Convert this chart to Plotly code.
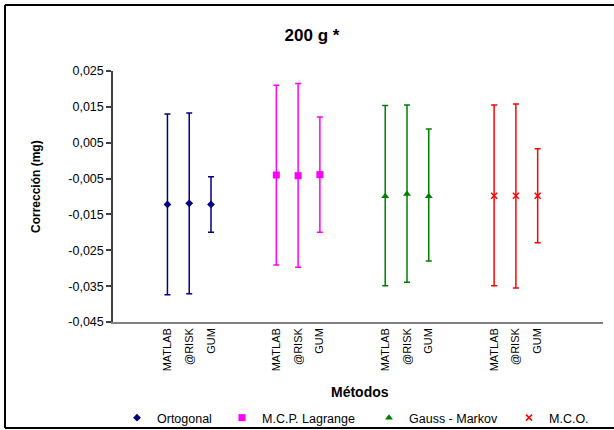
import plotly.graph_objects as go

# ---- data ----
methods = ["MATLAB", "@RISK", "GUM"]
series_names = ["Ortogonal", "M.C.P. Lagrange", "Gauss - Markov", "M.C.O."]

ortogonal_center = [-0.0122, -0.0119, -0.0122]
ortogonal_upper = [0.0130, 0.0133, -0.0045]
ortogonal_lower = [-0.0374, -0.0371, -0.0200]

lagrange_center = [-0.0040, -0.0042, -0.0039]
lagrange_upper = [0.0210, 0.0215, 0.0122]
lagrange_lower = [-0.0291, -0.0297, -0.0200]

gauss_center = [-0.0099, -0.0093, -0.0099]
gauss_upper = [0.0154, 0.0155, 0.0088]
gauss_lower = [-0.0349, -0.0339, -0.0280]

mco_center = [-0.0098, -0.0098, -0.0098]
mco_upper = [0.0155, 0.0158, 0.0033]
mco_lower = [-0.0349, -0.0355, -0.0229]

y_tick_values = [0.025, 0.015, 0.005, -0.005, -0.015, -0.025, -0.035, -0.045]
y_tick_labels = ["0,025", "0,015", "0,005", "-0,005", "-0,015", "-0,025", "-0,035", "-0,045"]

# ---- styling ----
colors = ["#000080", "#FF00FF", "#008000", "#FF0000"]
symbols = ["diamond", "square", "triangle-up", "x-thin-open"]
msizes = [6, 7, 7, 6]
centers = [ortogonal_center, lagrange_center, gauss_center, mco_center]
uppers = [ortogonal_upper, lagrange_upper, gauss_upper, mco_upper]
lowers = [ortogonal_lower, lagrange_lower, gauss_lower, mco_lower]

FONT = "Liberation Sans, Arial, sans-serif"
GROUP_STEP = 5

fig = go.Figure()
all_x = []
all_text = []
for g, name in enumerate(series_names):
    xs = [g * GROUP_STEP + i for i in range(len(methods))]
    all_x += xs
    all_text += methods
    c = centers[g]
    up = [u - v for u, v in zip(uppers[g], c)]
    dn = [v - l for v, l in zip(c, lowers[g])]
    marker = dict(color=colors[g], size=msizes[g], symbol=symbols[g])
    if symbols[g] == "x-thin-open":
        marker["line"] = dict(color=colors[g], width=1.5)
    fig.add_trace(go.Scatter(
        x=xs, y=c, mode="markers", name=name,
        marker=marker,
        error_y=dict(type="data", symmetric=False, array=up, arrayminus=dn,
                     color=colors[g], thickness=1.5, width=3),
        legend="legend" if g == 0 else f"legend{g+1}",
        showlegend=True,
    ))

x0, x1 = 113, 603
y0, y1 = 71, 322
W, H = 614, 430

def px_to_paper_x(px):
    return (px - x0) / (x1 - x0)

def px_to_paper_y(py):
    return (y1 - py) / (y1 - y0)

legend_x_px = [117, 222, 369, 509]
legends = {}
for g in range(4):
    key = "legend" if g == 0 else f"legend{g+1}"
    legends[key] = dict(
        x=px_to_paper_x(legend_x_px[g]), y=px_to_paper_y(418),
        xanchor="left", yanchor="middle", orientation="h",
        font=dict(family=FONT, size=12.5, color="black"),
        bgcolor="rgba(0,0,0,0)", itemwidth=30,
    )

fig.update_layout(
    width=W, height=H,
    margin=dict(l=x0, r=W - x1, t=y0, b=H - y1, autoexpand=False),
    paper_bgcolor="white", plot_bgcolor="white",
    font=dict(family=FONT, color="black"),
    title=dict(text="<b>200 g *</b>", x=(312) / W, xanchor="center",
               y=1 - 35 / H, yanchor="middle", yref="container",
               font=dict(family=FONT, size=17, color="black")),
    xaxis=dict(range=[-2.5, 20], tickmode="array", tickvals=all_x, ticktext=all_text,
               tickangle=-90, tickfont=dict(family=FONT, size=11, color="black"),
               showgrid=False, zeroline=False, showline=True, linecolor="#808080",
               linewidth=1.5, ticks=""),
    yaxis=dict(range=[-0.045, 0.025], tickmode="array", tickvals=y_tick_values,
               ticktext=y_tick_labels, tickfont=dict(family=FONT, size=12.5, color="black"),
               showgrid=False, zeroline=False, showline=True, linecolor="#404040",
               linewidth=1.5, ticks="outside", ticklen=5, tickcolor="#404040", tickwidth=1.5),
    showlegend=True,
    **legends,
)

fig.add_annotation(text="<b>Corrección (mg)</b>", textangle=-90,
                   xref="paper", yref="paper", x=px_to_paper_x(36), y=px_to_paper_y(187),
                   xanchor="center", yanchor="middle", showarrow=False,
                   font=dict(family=FONT, size=12, color="black"))
fig.add_annotation(text="<b>Métodos</b>",
                   xref="paper", yref="paper", x=px_to_paper_x(360), y=px_to_paper_y(392),
                   xanchor="center", yanchor="middle", showarrow=False,
                   font=dict(family=FONT, size=14, color="black"))

# outer chart border (top, left, bottom; right edge lies outside the image)
bl, bt, bb, br = 5, 5, 428, 614
for (ax0, ay0, ax1, ay1) in [(bl, bt, br, bt), (bl, bt, bl, bb), (bl, bb, br, bb)]:
    fig.add_shape(type="line", xref="paper", yref="paper",
                  x0=px_to_paper_x(ax0), y0=px_to_paper_y(ay0),
                  x1=px_to_paper_x(ax1), y1=px_to_paper_y(ay1),
                  line=dict(color="black", width=2), layer="below")

fig.write_html("out.html")
